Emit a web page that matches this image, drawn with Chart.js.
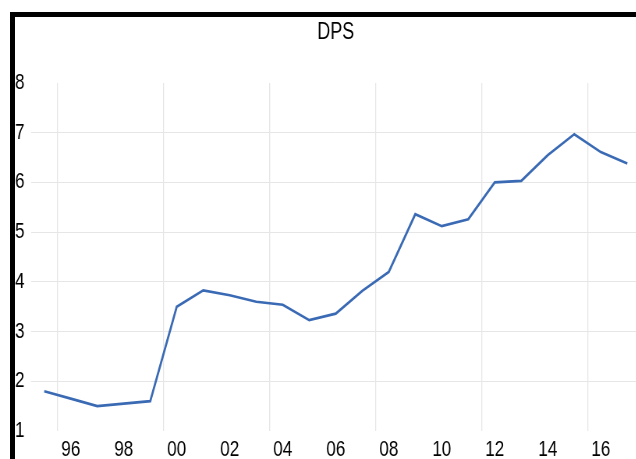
<!DOCTYPE html>
<html>
<head>
<meta charset="utf-8">
<script src="https://cdn.jsdelivr.net/npm/chart.js@4.4.1/dist/chart.umd.min.js"></script>
<style>
  html, body { margin: 0; padding: 0; background: #fff; overflow: hidden; width: 636px; height: 459px; }
  #wrap { position: absolute; left: 0; top: 0; width: 846px; height: 459px;
          transform: scaleX(0.78); transform-origin: 0 0; }
  #frame { position: absolute; left: 10px; top: 12px; width: 700px; height: 500px;
           border-top: 5px solid #000; border-left: 5px solid #000; pointer-events: none; }
</style>
</head>
<body>
<div id="wrap">
  <canvas id="c" width="846" height="459"></canvas>
</div>
<div id="frame"></div>
<script>
const years = ['1995','1996','1997','1998','1999','2000','2001','2002','2003','2004','2005','2006',
               '2007','2008','2009','2010','2011','2012','2013','2014','2015','2016','2017'];
const dps = [1.80, 1.65, 1.50, 1.55, 1.60, 3.50, 3.83, 3.73, 3.60, 3.54, 3.23, 3.36,
             3.82, 4.20, 5.36, 5.12, 5.26, 6.00, 6.03, 6.55, 6.97, 6.61, 6.38];
const yTicks = [1, 2, 3, 4, 5, 6, 7, 8];
const titleText = 'DPS';

const FONT = "'Liberation Sans', Arial, sans-serif";
const GRID = '#e6e6e6';

new Chart(document.getElementById('c'), {
  type: 'line',
  data: {
    labels: years,
    datasets: [{
      label: titleText,
      data: dps,
      borderColor: '#3a6ab4',
      borderWidth: 2.7,
      pointRadius: 0,
      tension: 0,
      fill: false
    }]
  },
  options: {
    responsive: false,
    animation: false,
    devicePixelRatio: 1,
    layout: { padding: { left: 19.2, right: 24.8, top: 0, bottom: 0 } },
    plugins: {
      legend: { display: false },
      tooltip: { enabled: false },
      title: {
        display: true,
        text: titleText,
        fullSize: false,
        color: '#000',
        font: { family: FONT, size: 23, weight: 'normal' },
        padding: { top: 18.5, bottom: 36.9 }
      }
    },
    scales: {
      x: {
        type: 'category',
        offset: true,
        border: { display: false },
        grid: {
          offset: true,
          drawTicks: false,
          lineWidth: 1.3,
          color: ctx => ((ctx.index - 1) % 4 === 0 && ctx.index < years.length) ? GRID : 'rgba(0,0,0,0)'
        },
        ticks: {
          autoSkip: false,
          maxRotation: 0,
          minRotation: 0,
          padding: 6,
          color: '#000',
          font: { family: FONT, size: 22 },
          callback: (v, i) => (i % 2 === 1) ? years[i].slice(2) : ''
        },
        afterFit: s => { s.height = 28; }
      },
      y: {
        min: yTicks[0],
        max: yTicks[yTicks.length - 1],
        border: { display: false },
        grid: {
          drawTicks: false,
          lineWidth: 1,
          color: ctx => (ctx.tick && ctx.tick.value > yTicks[0] && ctx.tick.value < yTicks[yTicks.length - 1]) ? GRID : 'rgba(0,0,0,0)'
        },
        afterBuildTicks: s => { s.ticks = yTicks.map(v => ({ value: v })); },
        ticks: {
          crossAlign: 'far',
          padding: 0,
          color: '#000',
          font: { family: FONT, size: 22 }
        },
        afterFit: s => { s.width = 20.5; }
      }
    }
  }
});
</script>
</body>
</html>
